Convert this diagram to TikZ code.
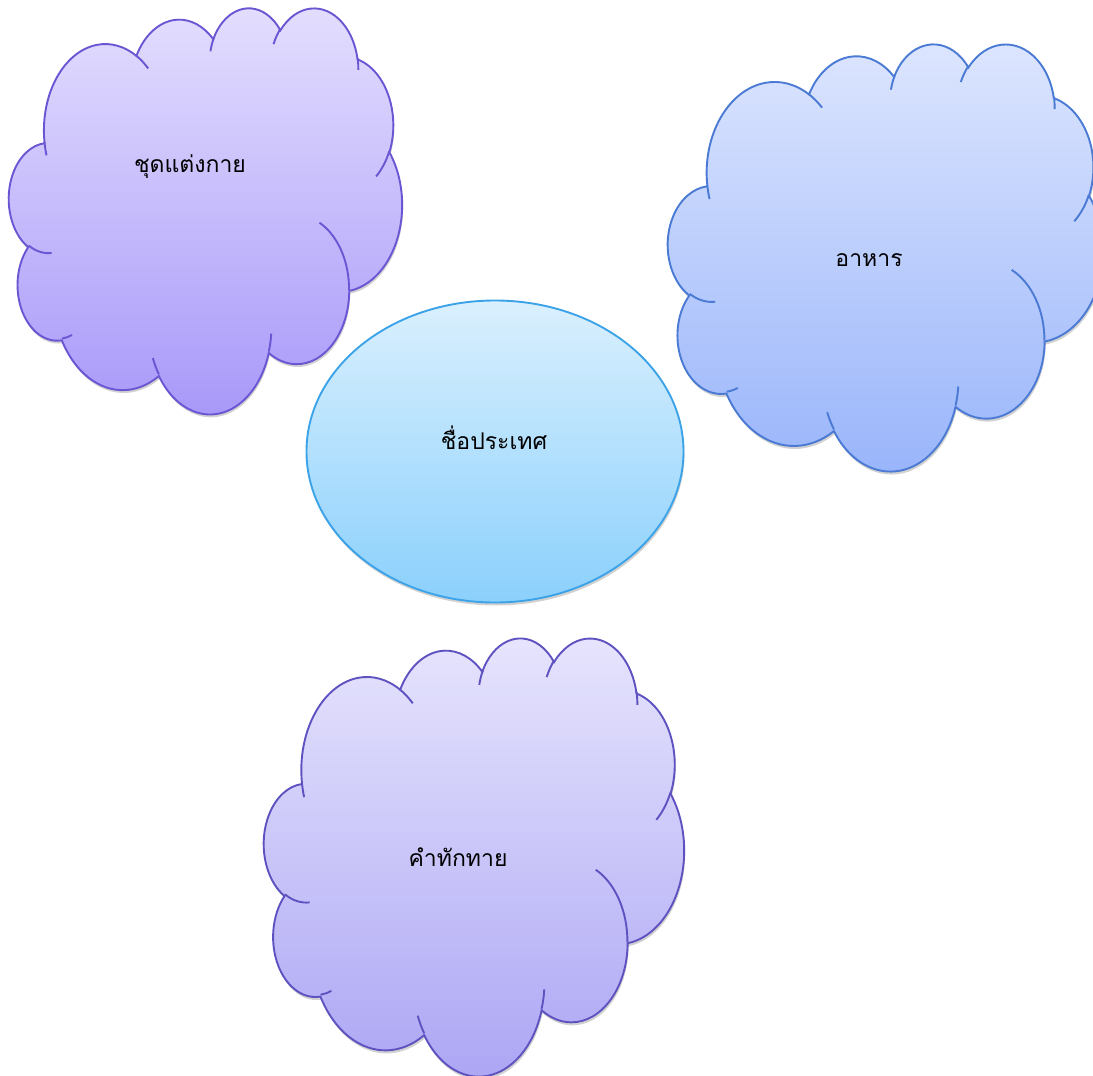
\documentclass[tikz,border=0pt]{standalone}
\usepackage{fontspec}
\usepackage{tikz}
\usetikzlibrary{shapes.geometric,%
                positioning}
\newfontfamily\thaifont[Script=Thai]{Loma}

\definecolor{dresstop}{HTML}{E4DFFE}
\definecolor{dressbot}{HTML}{A797F9}
\definecolor{dressedge}{HTML}{6A55D2}
\definecolor{foodtop}{HTML}{DDE6FE}
\definecolor{foodbot}{HTML}{98B4FA}
\definecolor{foodedge}{HTML}{4A7AD3}
\definecolor{nationtop}{HTML}{DAF0FE}
\definecolor{nationbot}{HTML}{8BD0FC}
\definecolor{nationedge}{HTML}{3DA3E8}
\definecolor{greettop}{HTML}{E7E5FD}
\definecolor{greetbot}{HTML}{ABA5F4}
\definecolor{greetedge}{HTML}{5E52C0}

\tikzset{
  carc/.style n args={4}{insert path={arc[x radius=#1, y radius=#2,
      start angle={atan2(#1*sin(#3),#2*cos(#3))},
      delta angle={mod(atan2(#1*sin(#3+#4),#2*cos(#3+#4))-atan2(#1*sin(#3),#2*cos(#3))+720,360)-(#4<0)*360}]}},
  lbl/.style={font=\thaifont\fontsize{23}{27}\selectfont, inner sep=0pt, anchor=base},
  nationshape/.style={ellipse, minimum width=377, minimum height=302, line width=1.9pt,
      draw=nationedge, top color=nationtop, bottom color=nationbot}
}

% cloud outline in a 432 x 432 box
\newcommand\cloudoutline{(39.00,143.70)
  [carc={67.53}{91.90}{-190.4875}{123.7805}]
  [carc={53.33}{72.67}{-144.1024}{89.9452}]
  [carc={43.65}{59.45}{-145.8079}{99.7230}]
  [carc={48.57}{65.95}{-130.9861}{117.2417}]
  [carc={53.33}{72.73}{-78.7089}{109.0269}]
  [carc={67.75}{92.20}{-46.2673}{130.2690}]
  [carc={57.85}{78.67}{0.6250}{114.0333}]
  [carc={67.52}{92.15}{22.4516}{115.1726}]
  [carc={77.20}{105.43}{66.2426}{75.7110}]
  [carc={43.60}{59.18}{-274.9421}{146.7356}]
  [carc={43.45}{59.45}{-246.8285}{152.5189}] -- cycle}
\newcommand\cloudcreases{(46.93,261.77) [carc={43.45}{59.45}{86.7420}{26.4295}]
  (69.28,348.99) [carc={43.60}{59.18}{73.6105}{11.4475}]
  (164.78,390.90) [carc={67.52}{92.15}{137.6242}{14.0811}]
  (288.27,347.51) [carc={67.52}{92.15}{6.4533}{15.9984}]
  (341.29,229.54) [carc={57.85}{78.67}{-70.2924}{70.9174}]
  (417.98,153.54) [carc={53.33}{72.73}{30.3180}{27.7515}]
  (383.24,54.26) [carc={48.57}{65.95}{-13.7443}{14.8502}]
  (290.78,39.52) [carc={48.57}{65.95}{-149.1815}{18.1943}]
  (221.41,47.20) [carc={43.65}{59.45}{-163.4943}{17.6928}]
  (140.00,51.92) [carc={67.53}{91.90}{-66.7070}{12.3194}]
  (41.27,157.89) [carc={67.53}{91.90}{157.6544}{11.8582}]}
% #1 colour prefix, #2 #3 top left corner, #4 #5 width and height
\newcommand\officecloud[5]{%
  \begin{scope}[shift={(#2,#3)}, y=1pt, xscale=#4/432, yscale=-#5/432]
    \fill[black, opacity=0.18, shift={(1,3)}] \cloudoutline;
    \path[draw=#1edge, line width=1.9pt, top color=#1top, bottom color=#1bot] \cloudoutline;
    \draw[#1edge, line width=1.9pt] \cloudcreases;
  \end{scope}}

\begin{document}
\begin{tikzpicture}[x=1pt, y=-1pt]
\useasboundingbox (0,0) rectangle (1093,1076);

\officecloud{dress}{9}{7}{393}{406}
\officecloud{food}{668}{43}{435}{427}
\officecloud{greet}{264}{637}{420}{438}

\fill[black, opacity=0.18] (496,454.5) ellipse [x radius=188.5, y radius=151];
\node[nationshape] (nation) at (495,451.5) {};

\node[lbl] (dress) at (190,172) {ชุดแต่งกาย};
\node[lbl] (food) at (869,266) {อาหาร};
\node[lbl] (nationname) at (494,449) {ชื่อประเทศ};
\node[lbl] (greeting) at (458,866) {คำทักทาย};

\end{tikzpicture}
\end{document}
